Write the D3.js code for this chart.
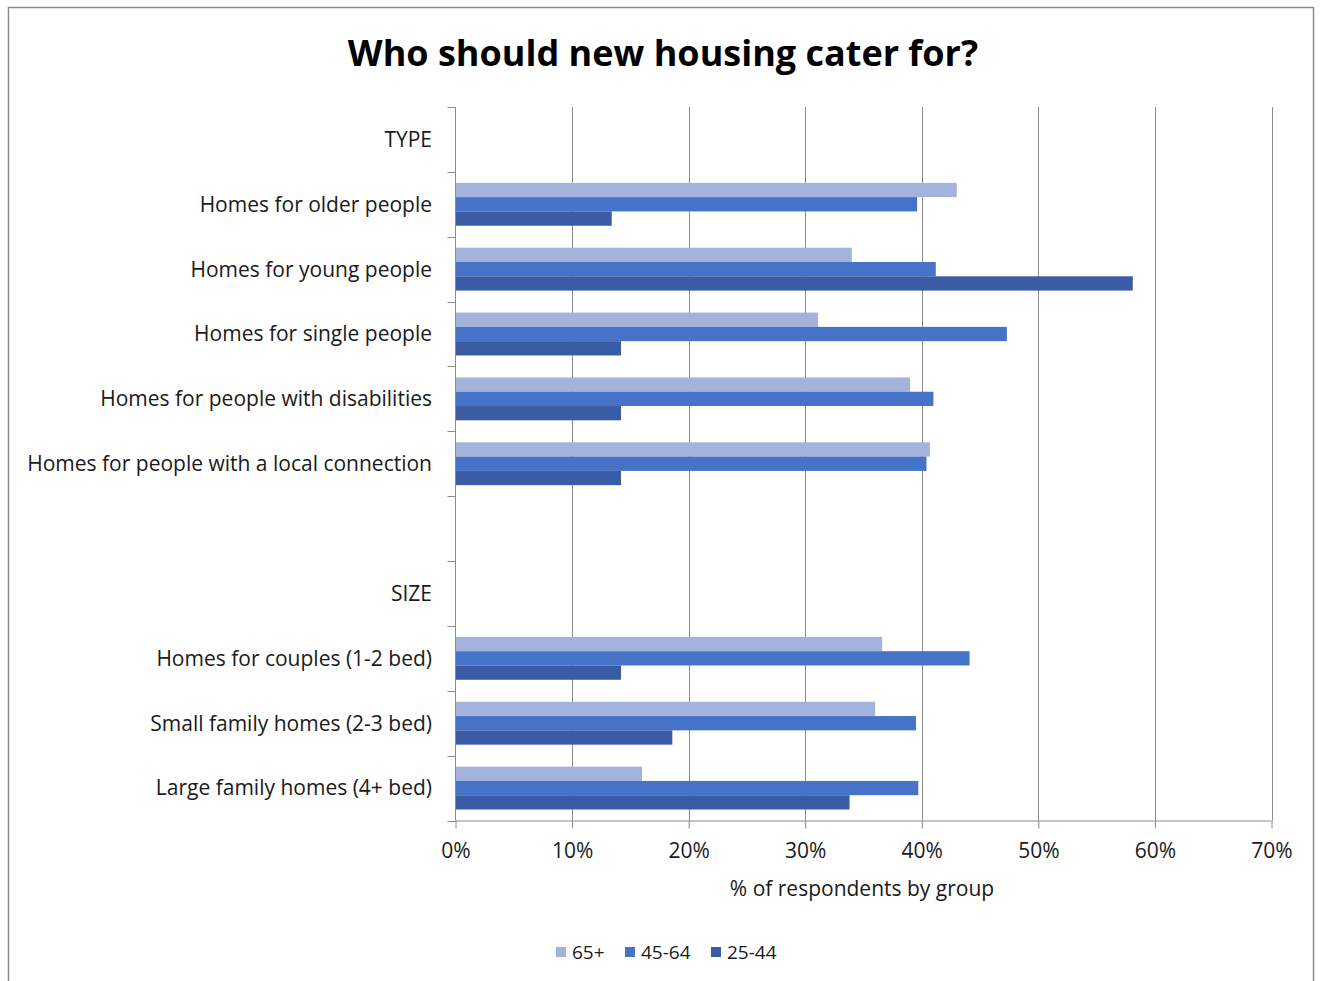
<!DOCTYPE html>
<html>
<head>
<meta charset="utf-8">
<script src="https://cdn.jsdelivr.net/npm/d3@7/dist/d3.min.js"></script>
<style>
  html, body { margin: 0; padding: 0; background: #fff; }
  svg { display: block; }
  text { font-family: "Open Sans", Lato, sans-serif; fill: #1a1a1a; }
</style>
</head>
<body>
<svg id="chart" width="1322" height="981"></svg>
<script>
// Row labels, top to bottom (empty strings are section spacers / headers without bars)
const categories = [
  "TYPE",
  "Homes for older people",
  "Homes for young people",
  "Homes for single people",
  "Homes for people with disabilities",
  "Homes for people with a local connection",
  "",
  "SIZE",
  "Homes for couples (1-2 bed)",
  "Small family homes (2-3 bed)",
  "Large family homes (4+ bed)"
];

// Share of respondents (%) per age group; null where the row has no bars
const seriesNames = ["65+", "45-64", "25-44"];
const values65plus = [null, 43.0, 34.0, 31.1, 39.0, 40.7, null, null, 36.6, 36.0, 16.0];
const values45to64 = [null, 39.6, 41.2, 47.3, 41.0, 40.4, null, null, 44.1, 39.5, 39.7];
const values25to44 = [null, 13.4, 58.1, 14.2, 14.2, 14.2, null, null, 14.2, 18.6, 33.8];
const seriesValues = [values65plus, values45to64, values25to44];
const seriesColors = ["#a3b3dc", "#4673c8", "#3a5ba6"];

const xTicks = [0, 10, 20, 30, 40, 50, 60, 70];

const svg = d3.select("#chart");

// Chart frame
svg.append("rect")
  .attr("x", 8.5).attr("y", 7.5)
  .attr("width", 1305).attr("height", 990)
  .attr("fill", "#fff").attr("stroke", "#8c8c8c").attr("stroke-width", 1.5);

const plot = { left: 455.5, right: 1271.5, top: 107, bottom: 820.5 };

const x = d3.scaleLinear().domain([0, 70]).range([plot.left, plot.right]);
const y = d3.scaleBand().domain(d3.range(categories.length)).range([plot.top, plot.bottom]);
const ySeries = d3.scaleBand().domain(d3.range(seriesNames.length))
  .range([0, y.bandwidth()]).paddingInner(0).paddingOuter(0.77);

// Title
svg.append("text")
  .attr("x", 663).attr("y", 66)
  .attr("text-anchor", "middle")
  .style("font-size", "36px").style("font-weight", "bold").style("fill", "#000")
  .text("Who should new housing cater for?");

// Vertical gridlines
svg.append("g").selectAll("line")
  .data(xTicks.slice(1))
  .join("line")
  .attr("x1", d => Math.round(x(d)) + 0.5).attr("x2", d => Math.round(x(d)) + 0.5)
  .attr("y1", plot.top).attr("y2", plot.bottom)
  .attr("stroke", "#8a8a8a").attr("stroke-width", 1);

// Bars
const barLayer = svg.append("g");
seriesValues.forEach((vals, si) => {
  barLayer.append("g").selectAll("rect")
    .data(vals.map((v, i) => ({ v, i })).filter(d => d.v != null))
    .join("rect")
    .attr("x", x(0))
    .attr("y", d => y(d.i) + ySeries(si))
    .attr("width", d => x(d.v) - x(0))
    .attr("height", ySeries.bandwidth())
    .attr("fill", seriesColors[si]);
});

// Left axis with ticks at row boundaries
const yAxisG = svg.append("g");
yAxisG.append("line")
  .attr("x1", plot.left).attr("x2", plot.left)
  .attr("y1", plot.top).attr("y2", plot.bottom)
  .attr("stroke", "#8a8a8a");
yAxisG.selectAll("line.tick")
  .data(d3.range(categories.length + 1))
  .join("line").attr("class", "tick")
  .attr("x1", plot.left - 8).attr("x2", plot.left)
  .attr("y1", i => Math.round(plot.top + i * y.step()) + 0.5)
  .attr("y2", i => Math.round(plot.top + i * y.step()) + 0.5)
  .attr("stroke", "#8a8a8a");
yAxisG.selectAll("text")
  .data(categories)
  .join("text")
  .attr("x", 432).attr("y", (d, i) => y(i) + y.bandwidth() / 2)
  .attr("dy", "0.35em")
  .attr("text-anchor", "end")
  .style("font-size", "21px")
  .text(d => d);

// Bottom axis
const xAxis = d3.axisBottom(x).tickValues(xTicks)
  .tickFormat(d => d + "%").tickSize(8).tickPadding(15);
const xAxisG = svg.append("g")
  .attr("transform", `translate(0,${plot.bottom})`)
  .call(xAxis);
xAxisG.select(".domain").attr("stroke", "#8a8a8a").attr("d", `M${plot.left},0.5H${plot.right}`);
xAxisG.selectAll(".tick line").attr("stroke", "#8a8a8a");
xAxisG.selectAll(".tick text")
  .style("font-family", "'Open Sans', sans-serif").style("font-size", "21px").style("fill", "#1a1a1a");

// Axis title
svg.append("text")
  .attr("x", 862).attr("y", 889)
  .attr("dy", "0.35em")
  .attr("text-anchor", "middle")
  .style("font-size", "21px")
  .text("% of respondents by group");

// Legend
const legendItems = [
  { name: seriesNames[0], color: seriesColors[0], x: 556 },
  { name: seriesNames[1], color: seriesColors[1], x: 625 },
  { name: seriesNames[2], color: seriesColors[2], x: 711 }
];
const legend = svg.append("g");
legend.selectAll("rect")
  .data(legendItems)
  .join("rect")
  .attr("x", d => d.x).attr("y", 947)
  .attr("width", 10).attr("height", 10)
  .attr("fill", d => d.color);
legend.selectAll("text")
  .data(legendItems)
  .join("text")
  .attr("x", d => d.x + 16).attr("y", 952)
  .attr("dy", "0.35em")
  .style("font-size", "19px")
  .text(d => d.name);
</script>
</body>
</html>
